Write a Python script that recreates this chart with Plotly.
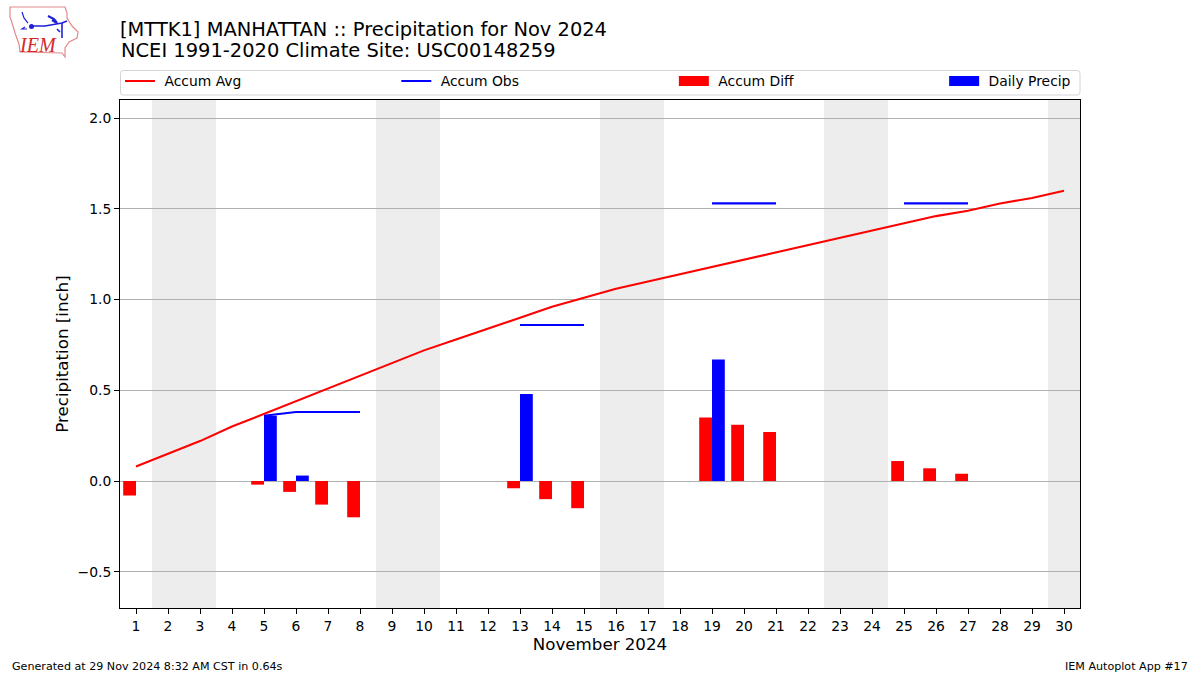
import plotly.graph_objects as go

days = list(range(1, 31))
accum_avg = [0.08, 0.15, 0.22, 0.30, 0.37, 0.44, 0.51, 0.58, 0.65, 0.72,
             0.78, 0.84, 0.90, 0.96, 1.01, 1.06, 1.10, 1.14, 1.18, 1.22,
             1.26, 1.30, 1.34, 1.38, 1.42, 1.46, 1.49, 1.53, 1.56, 1.60]
N = None
accum_obs = [N, N, N, N, 0.36, 0.38, 0.38, 0.38, N, N,
             N, N, 0.86, 0.86, 0.86, N, N, N, 1.53, 1.53,
             1.53, N, N, N, 1.53, 1.53, 1.53, N, N, N]
accum_diff = [-0.08, N, N, N, -0.02, -0.06, -0.13, -0.20, N, N,
              N, N, -0.04, -0.10, -0.15, N, N, N, 0.35, 0.31,
              0.27, N, N, N, 0.11, 0.07, 0.04, N, N, N]
daily_precip = [N, N, N, N, 0.36, 0.03, N, N, N, N,
                N, N, 0.48, N, N, N, N, N, 0.67, N,
                N, N, N, N, N, N, N, N, N, N]
weekend_bands = [(1.5, 3.5), (8.5, 10.5), (15.5, 17.5), (22.5, 24.5), (29.5, 30.5)]
y_ticks = [-0.5, 0.0, 0.5, 1.0, 1.5, 2.0]

W, H = 1200, 675
L, R, T, B = 120, 1080, 100, 608
def px(x): return (x - L) / (R - L)
def py(y): return (B - y) / (B - T)
def path(points, close=False):
    s = "M " + " L ".join(f"{px(a):.5f},{py(b):.5f}" for a, b in points)
    return s + (" Z" if close else "")

NB = "\u00a0"
fig = go.Figure()
fig.add_bar(x=days, y=accum_diff, width=0.4, offset=-0.4, marker=dict(color="#ff0000", line_width=0),
            showlegend=False, legendgroup="diff", name="Accum Diff")
fig.add_bar(x=days, y=daily_precip, width=0.4, offset=0, marker=dict(color="#0000ff", line_width=0),
            showlegend=False, legendgroup="daily", name="Daily Precip")
fig.add_scatter(x=days, y=accum_avg, mode="lines", name=NB + "Accum Avg" + NB * 34,
                line=dict(color="#ff0000", width=2.08))
fig.add_scatter(x=days, y=accum_obs, mode="lines", name=NB + "Accum Obs" + NB * 34,
                line=dict(color="#0000ff", width=2.08), connectgaps=False)
fig.add_scatter(x=[None], y=[None], mode="lines", name=NB + "Accum Diff" + NB * 33, legendgroup="diff",
                line=dict(color="#ff0000", width=10))
fig.add_scatter(x=[None], y=[None], mode="lines", name=NB + "Daily Precip", legendgroup="daily",
                line=dict(color="#0000ff", width=10))

shapes = [dict(type="rect", xref="x", yref="paper", x0=a, x1=b, y0=0, y1=1,
               fillcolor="#ededed", line_width=0, layer="below") for a, b in weekend_bands]

# legend frame
lx0, lx1, ly0, ly1, r = 120.5, 1080, 70.5, 95, 3
frame = (f"M {px(lx0 + r):.5f},{py(ly0):.5f} L {px(lx1 - r):.5f},{py(ly0):.5f} "
         f"Q {px(lx1):.5f},{py(ly0):.5f} {px(lx1):.5f},{py(ly0 + r):.5f} "
         f"L {px(lx1):.5f},{py(ly1 - r):.5f} Q {px(lx1):.5f},{py(ly1):.5f} {px(lx1 - r):.5f},{py(ly1):.5f} "
         f"L {px(lx0 + r):.5f},{py(ly1):.5f} Q {px(lx0):.5f},{py(ly1):.5f} {px(lx0):.5f},{py(ly1 - r):.5f} "
         f"L {px(lx0):.5f},{py(ly0 + r):.5f} Q {px(lx0):.5f},{py(ly0):.5f} {px(lx0 + r):.5f},{py(ly0):.5f} Z")
shapes.append(dict(type="path", xref="paper", yref="paper", path=frame,
                   line=dict(color="#d4d4d4", width=1), fillcolor="rgba(0,0,0,0)", layer="above"))

# logo
logo_outline = [(10, 7), (65, 7), (67, 13), (67, 18), (72, 26), (78, 32), (77, 38), (69, 42),
                (65, 48), (65, 57), (62, 53), (20, 52), (19, 44), (15, 33), (13, 26), (10, 17)]
shapes.append(dict(type="path", xref="paper", yref="paper", path=path(logo_outline, True),
                   line=dict(color="#e28a8a", width=1.2), fillcolor="rgba(0,0,0,0)", layer="above"))
for seg, w in [([(31, 26), (45, 26), (62, 23), (67, 21)], 1.6),
               ([(62, 23), (62, 38)], 1.6),
               ([(48, 16), (54, 19), (57, 23), (52, 20)], 2.2),
               ([(22, 12), (24, 18), (28, 23)], 1.2),
               ([(25, 27), (22, 29), (27, 29)], 1.2),
               ([(57, 29), (60, 32)], 1.6)]:
    shapes.append(dict(type="path", xref="paper", yref="paper", path=path(seg),
                       line=dict(color="#2020d8", width=w), fillcolor="rgba(0,0,0,0)", layer="above"))
shapes.append(dict(type="circle", xref="paper", yref="paper", x0=px(29), x1=px(34), y0=py(29), y1=py(24),
                   fillcolor="#2020d8", line_width=0, layer="above"))

annotations = [
    dict(text="NCEI 1991-2020 Climate Site: USC00148259", xref="paper", yref="paper",
         x=px(119), y=py(50.5), xanchor="left", yanchor="middle", showarrow=False, font=dict(size=19.44)),
    dict(text="Generated at 29 Nov 2024 8:32 AM CST in 0.64s", xref="paper", yref="paper",
         x=px(10), y=py(666), xanchor="left", yanchor="middle", showarrow=False, font=dict(size=11.11)),
    dict(text="IEM Autoplot App #17", xref="paper", yref="paper",
         x=px(1190), y=py(666), xanchor="right", yanchor="middle", showarrow=False, font=dict(size=11.11)),
    dict(text="<i>IEM</i>", xref="paper", yref="paper", x=px(38), y=py(45), xanchor="center", yanchor="middle",
         showarrow=False, font=dict(family="Liberation Serif", size=20, color="#d42a2a")),
]

fig.update_layout(
    width=W, height=H, margin=dict(l=L, r=W - R, t=T, b=H - B),
    paper_bgcolor="white", plot_bgcolor="white", barmode="overlay",
    font=dict(family="DejaVu Sans", size=13.89, color="black"),
    title=dict(text="[MTTK1] MANHATTAN :: Precipitation for Nov 2024",
               x=px(120), xref="paper", xanchor="left", y=1 - 29 / H, yref="container", yanchor="middle",
               font=dict(size=19.44)),
    legend=dict(orientation="h", x=0, xanchor="left", y=py(65.5), yanchor="top", borderwidth=0,
                bgcolor="rgba(0,0,0,0)", font=dict(size=13.89),
                itemclick=False, itemdoubleclick=False),
    shapes=shapes, annotations=annotations,
    xaxis=dict(range=[0.5, 30.5], tickvals=days, ticktext=[str(d) for d in days], showgrid=False, zeroline=False,
               showline=True, linecolor="black", linewidth=1, mirror=True, ticks="outside", ticklen=5,
               tickcolor="black", title=dict(text="November 2024", font=dict(size=16.67), standoff=5)),
    yaxis=dict(range=[-0.7, 2.1], tickvals=y_ticks, tickformat=".1f", showgrid=True, gridcolor="#b0b0b0", gridwidth=1,
               zeroline=False, showline=True, linecolor="black", linewidth=1, mirror=True, ticks="outside",
               ticklen=5, tickcolor="black", title=dict(text="Precipitation [inch]", font=dict(size=16.67), standoff=4)),
)
fig.write_html("out.html", post_script="document.body.style.margin='0';", config={"displayModeBar": False})
